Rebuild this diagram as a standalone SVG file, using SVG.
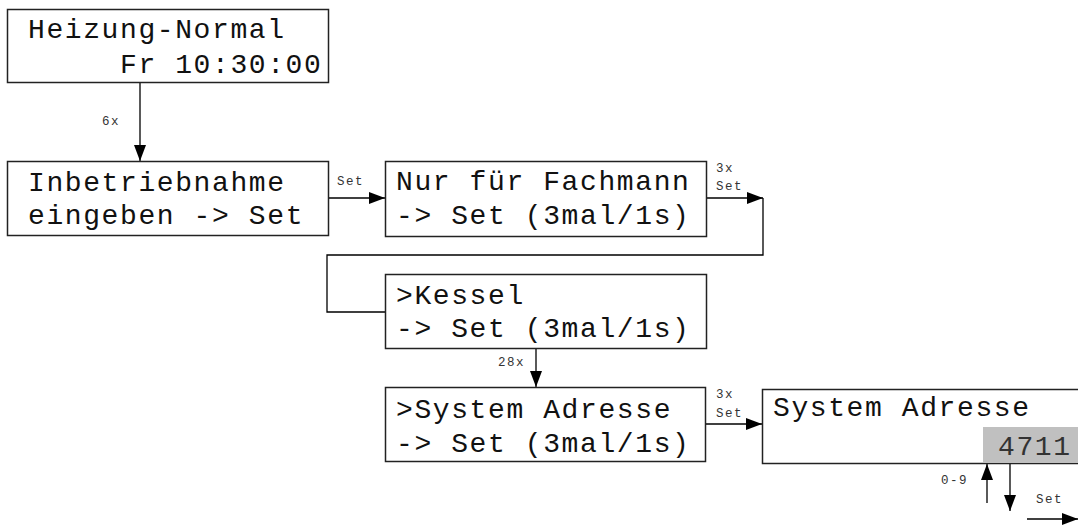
<svg xmlns="http://www.w3.org/2000/svg" width="1078" height="525" viewBox="0 0 1078 525">
<style>
.box{fill:#fff;stroke:#222;stroke-width:1.5}
.t{font-family:"Liberation Mono","Courier New",monospace;font-size:28px;letter-spacing:1.6px;fill:#111}
.s{font-family:"Liberation Mono","Courier New",monospace;font-size:12.5px;letter-spacing:1.5px;fill:#333}
.c{fill:none;stroke:#000;stroke-width:1.3}
</style>
<defs>
<marker id="ah" markerUnits="userSpaceOnUse" markerWidth="17" markerHeight="12" refX="16" refY="6" orient="auto">
<path d="M0,0 L16,6 L0,12 z" fill="#000"/>
</marker>
</defs>
<rect width="1078" height="525" fill="#fff"/>
<g id="connectors">
<path class="c" d="M140,83 V161" marker-end="url(#ah)"/>
<path class="c" d="M328,198 H385" marker-end="url(#ah)"/>
<path class="c" d="M707,198 H763" marker-end="url(#ah)"/>
<path class="c" d="M763,198 V255 H327 V312 H385"/>
<path class="c" d="M536,349 V387" marker-end="url(#ah)"/>
<path class="c" d="M706,424 H762" marker-end="url(#ah)"/>
<path class="c" d="M987,503 V464" marker-end="url(#ah)"/>
<path class="c" d="M1010,464 V511" marker-end="url(#ah)"/>
<path class="c" d="M1027,519 H1078" marker-end="url(#ah)"/>
<text class="s" x="102" y="125">6x</text>
<text class="s" x="337" y="185">Set</text>
<text class="s" x="716" y="172">3x</text>
<text class="s" x="716" y="190">Set</text>
<text class="s" x="498" y="366">28x</text>
<text class="s" x="716" y="398">3x</text>
<text class="s" x="716" y="417">Set</text>
<text class="s" x="941" y="484">0-9</text>
<text class="s" x="1036" y="503">Set</text>
</g>
<g id="n1">
<rect class="box" x="7.5" y="9.5" width="321" height="73"/>
<text class="t" x="28" y="38">Heizung-Normal</text>
<text class="t" x="120" y="73">Fr 10:30:00</text>
</g>
<g id="n2">
<rect class="box" x="7.5" y="161.5" width="321" height="74"/>
<text class="t" x="28" y="191">Inbetriebnahme</text>
<text class="t" x="28" y="224">eingeben -&gt; Set</text>
</g>
<g id="n3">
<rect class="box" x="385.5" y="161.5" width="321" height="75"/>
<text class="t" x="396" y="190">Nur für Fachmann</text>
<text class="t" x="396" y="224">-&gt; Set (3mal/1s)</text>
</g>
<g id="n4">
<rect class="box" x="385.5" y="274.5" width="321" height="74"/>
<text class="t" x="396" y="304">&gt;Kessel</text>
<text class="t" x="396" y="337">-&gt; Set (3mal/1s)</text>
</g>
<g id="n5">
<rect class="box" x="385.5" y="387.5" width="320" height="74"/>
<text class="t" x="396" y="418">&gt;System Adresse</text>
<text class="t" x="396" y="452">-&gt; Set (3mal/1s)</text>
</g>
<g id="n6">
<rect class="box" x="762.5" y="389.5" width="330" height="74"/>
<rect x="983" y="427" width="100" height="36" fill="#c0c0c0"/>
<text class="t" x="773" y="416">System Adresse</text>
<text class="t" x="998" y="455" fill="#333" style="fill:#333">4711</text>
</g>
</svg>
